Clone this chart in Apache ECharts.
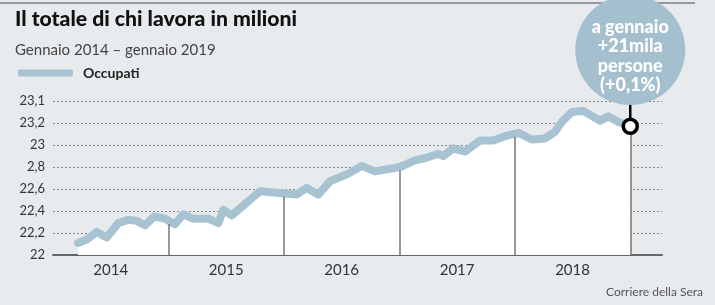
<!DOCTYPE html>
<html><head><meta charset="utf-8">
<script src="https://cdn.jsdelivr.net/npm/echarts@6/dist/echarts.min.js"></script>
<style>html,body{margin:0;padding:0;background:#e8ebee;}#c{width:715px;height:305px;}</style>
</head><body><div id="c"></div>
<script>
// Data: x = months since January 2014, y = millions employed
var months = [2.6,3.5,4.54,5.58,6.79,7.83,8.7,9.56,10.53,11.64,12.68,13.54,14.55,16.14,17.18,17.7,18.58,21.52,24.12,25.33,26.37,27.58,28.79,30.7,32.09,33.47,36.07,37.63,38.67,40.05,40.57,41.61,42.83,44.39,45.77,46.99,48.37,49.76,51.14,52.18,52.88,53.92,55.12,56.86,57.72,58.76,60];
var occupati = [22.11,22.14,22.21,22.16,22.29,22.32,22.31,22.27,22.35,22.33,22.28,22.37,22.33,22.33,22.29,22.41,22.36,22.58,22.56,22.55,22.61,22.55,22.67,22.74,22.81,22.76,22.80,22.86,22.88,22.92,22.90,22.97,22.94,23.04,23.04,23.08,23.11,23.05,23.06,23.12,23.21,23.30,23.31,23.22,23.26,23.21,23.17];
var yearLabels = ['2014','2015','2016','2017','2018'];
var yearSeparators = [12,24,36,48,60];
var yTickLabels = ['22','22,2','22,4','22,6','2,8','23','23,2','23,1'];
var titleText = 'Il totale di chi lavora in milioni';
var subtitleText = 'Gennaio 2014 \u2013 gennaio 2019';
var seriesName = 'Occupati';
var bubbleLines = ['a gennaio','+21mila','persone','(+0,1%)'];
var sourceText = 'Corriere della Sera';

var FONT = 'Lato, "Noto Sans", sans-serif';
var pts = months.map(function(m,i){return [m, occupati[i]];});
function interp(m){
  for (var i=0;i<months.length-1;i++){
    if (m>=months[i] && m<=months[i+1]){
      var t=(m-months[i])/(months[i+1]-months[i]);
      return occupati[i]+t*(occupati[i+1]-occupati[i]);
    }
  }
  return occupati[occupati.length-1];
}
var sepData = yearSeparators.map(function(m){return [{coord:[m,22]},{coord:[m,interp(m)-0.03]}];});

// measure title to match condensed look
var cv=document.createElement('canvas').getContext('2d');
cv.font='bold 21px Lato';
var tw=cv.measureText(titleText).width;
var sx=280/tw;

var chart = echarts.init(document.getElementById('c'));
var lineColor = '#a7c3d2';
chart.setOption({
  backgroundColor:'#e8ebee',
  animation:false,
  grid:{left:53,right:53,top:101,bottom:50},
  legend:{data:[seriesName],left:13,top:61,icon:'roundRect',itemWidth:55,itemHeight:7,
    itemStyle:{color:lineColor},
    textStyle:{fontFamily:FONT,fontWeight:'bold',fontSize:14,color:'#222',padding:[0,0,0,5]}},
  xAxis:{type:'value',min:0,max:63.3,interval:6,
    axisLine:{show:true,lineStyle:{color:'#666',width:2}},
    axisTick:{show:false},splitLine:{show:false},
    axisLabel:{margin:8,fontFamily:FONT,fontSize:15,color:'#333',showMaxLabel:false,showMinLabel:false,
      formatter:function(v){var k=(v-6)/12; if(Math.abs(k-Math.round(k))<1e-6 && yearLabels[Math.round(k)]) return yearLabels[Math.round(k)]; return '';}}},
  yAxis:{type:'value',min:22,max:23.4,interval:0.2,
    axisLine:{show:false},axisTick:{show:false},
    splitLine:{show:true,lineStyle:{color:'#8a8a8a',type:[2,2],width:1}},
    axisLabel:{margin:8,fontFamily:FONT,fontSize:13,color:'#333',
      formatter:function(v){var i=Math.round((v-22)/0.2);return yTickLabels[i]||'';}}},
  series:[
    {name:seriesName,type:'line',data:pts,showSymbol:false,symbol:'none',smooth:false,
      lineStyle:{color:lineColor,width:8,join:'round',cap:'round'},
      itemStyle:{color:lineColor},
      areaStyle:{color:'#ffffff',opacity:1,origin:'start'},
      z:3},
    {name:'sep',type:'line',data:[],z:4,silent:true,
      markLine:{silent:true,symbol:'none',label:{show:false},animation:false,
        lineStyle:{color:'#777',width:1.5,type:'solid'},data:sepData}},
    {name:'last',type:'scatter',data:[pts[pts.length-1]],symbolSize:14,z:6,
      itemStyle:{color:'#ffffff',borderColor:'#000',borderWidth:3.5,opacity:1}}
  ]
});

var last = chart.convertToPixel({gridIndex:0},pts[pts.length-1]);
var bx = last[0], bcy = 50, br = 55;
chart.setOption({graphic:[
  {type:'line',shape:{x1:0,y1:3,x2:695,y2:3},style:{stroke:'#9a9a9a',lineWidth:2},z:1},
  {type:'text',left:15,top:9,scaleX:sx,originX:0,style:{text:titleText,font:'900 21px Lato',fill:'#111'},z:10},
  {type:'text',left:15,top:43,style:{text:subtitleText,font:'15px Lato',fill:'#444'},z:10},
  {type:'line',shape:{x1:bx,y1:bcy+br-2,x2:bx,y2:last[1]-7},style:{stroke:'#000',lineWidth:2.5},z:20},
  {type:'circle',shape:{cx:bx,cy:bcy,r:br},style:{fill:'#a4c0cf'},z:21},
  {type:'text',x:bx,y:bcy+6,style:{text:bubbleLines.join('\n'),font:'900 18px Lato',fill:'#fff',align:'center',verticalAlign:'middle',lineHeight:19.5},z:22},
  {type:'text',right:12,top:286,style:{text:sourceText,font:'12px Lato',fill:'#555'},z:10}
]});
</script></body></html>
